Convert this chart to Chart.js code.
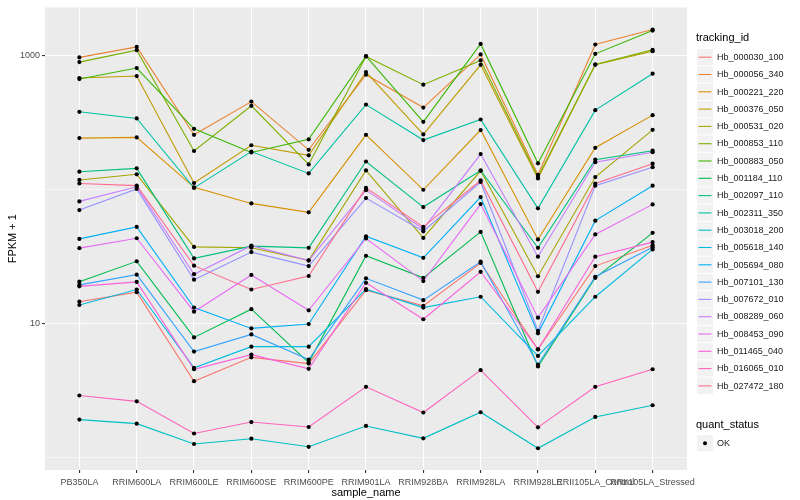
<!DOCTYPE html>
<html>
  <head>
    <script src="https://cdn.jsdelivr.net/npm/chart.js@4.4.1/dist/chart.umd.min.js"></script>
    <style>
      body {
        margin: 0;
        background: #ffffff;
      }
    </style>
  </head>
  <body>
    <canvas id="myChart" width="800" height="500"></canvas>
    <script>
      // x categories
      var sampleNames = ["PB350LA", "RRIM600LA", "RRIM600LE", "RRIM600SE", "RRIM600PE", "RRIM901LA",
        "RRIM928BA", "RRIM928LA", "RRIM928LE", "RRII105LA_Control", "RRII105LA_Stressed"];

      // FPKM + 1 per gene, one value per sample
      var hb_000030_100 = [14.6, 17.2, 3.73, 5.62, 5.05, 17.8, 13.6, 28.4, 6.45, 26.9, 38.5];
      var hb_000056_340 = [967, 1158, 256, 453, 198, 718, 409, 1017, 129, 1207, 1559];
      var hb_000221_220 = [242, 245, 104, 78.9, 67.7, 256, 99.7, 278, 42.5, 205, 359];
      var hb_000376_050 = [679, 702, 112, 214, 180, 752, 258, 852, 121, 852, 1076];
      var hb_000531_020 = [118, 130, 37.4, 36.9, 29.7, 139, 43.6, 138, 22.6, 124, 279];
      var hb_000853_110 = [892, 1095, 194, 421, 154, 983, 605, 918, 124, 858, 1100];
      var hb_000883_050 = [667, 805, 284, 189, 237, 988, 320, 1219, 157, 1028, 1532];
      var hb_001184_110 = [20.6, 29.2, 7.91, 12.85, 5.14, 32.1, 22.0, 48.4, 4.80, 22.0, 47.6];
      var hb_002097_110 = [136, 144, 30.7, 37.9, 36.8, 162, 74.1, 139, 36.8, 167, 195];
      var hb_002311_350 = [380, 339, 103, 192, 132, 430, 234, 333, 72.5, 391, 731];
      var hb_003018_200 = [1.93, 1.80, 1.27, 1.39, 1.21, 1.73, 1.40, 2.19, 1.18, 2.02, 2.47];
      var hb_005618_140 = [13.8, 18.0, 4.69, 6.75, 6.75, 18.1, 13.2, 15.9, 5.76, 15.9, 35.8];
      var hb_005694_080 = [42.9, 52.7, 13.2, 9.23, 9.95, 44.9, 31.0, 87.9, 8.48, 58.7, 107];
      var hb_007101_130 = [19.5, 23.2, 6.20, 8.33, 5.41, 21.8, 15.0, 29.0, 4.97, 22.4, 37.2];
      var hb_007672_010 = [70.4, 101, 21.3, 34.2, 26.9, 86.4, 48.9, 114, 8.87, 107, 147];
      var hb_008289_060 = [81.7, 105, 23.4, 38.2, 29.6, 99.1, 50.9, 184, 31.6, 160, 190];
      var hb_008453_090 = [36.6, 43.4, 12.3, 23.1, 12.6, 43.2, 20.8, 78.0, 11.1, 46.3, 77.6];
      var hb_011465_040 = [19.0, 20.5, 4.58, 5.89, 4.61, 20.2, 10.8, 24.4, 6.45, 31.6, 40.6];
      var hb_016065_010 = [2.92, 2.64, 1.52, 1.85, 1.70, 3.39, 2.18, 4.51, 1.69, 3.39, 4.58];
      var hb_027472_180 = [111, 107, 27.1, 18.0, 22.7, 103, 52.7, 117, 17.3, 111, 156];

      var trackingIds = ["Hb_000030_100", "Hb_000056_340", "Hb_000221_220", "Hb_000376_050",
        "Hb_000531_020", "Hb_000853_110", "Hb_000883_050", "Hb_001184_110", "Hb_002097_110",
        "Hb_002311_350", "Hb_003018_200", "Hb_005618_140", "Hb_005694_080", "Hb_007101_130",
        "Hb_007672_010", "Hb_008289_060", "Hb_008453_090", "Hb_011465_040", "Hb_016065_010",
        "Hb_027472_180"];
      var seriesValues = [hb_000030_100, hb_000056_340, hb_000221_220, hb_000376_050,
        hb_000531_020, hb_000853_110, hb_000883_050, hb_001184_110, hb_002097_110,
        hb_002311_350, hb_003018_200, hb_005618_140, hb_005694_080, hb_007101_130,
        hb_007672_010, hb_008289_060, hb_008453_090, hb_011465_040, hb_016065_010,
        hb_027472_180];

      var yTicks = [1, 10, 100, 1000];
      var yLabelled = [10, 1000];

      // ggplot hue palette, 20 colours
      var palette = ["#F8766D", "#EA8331", "#D89000", "#C09B00", "#A3A500", "#7CAE00", "#39B600",
        "#00BB4E", "#00BF7D", "#00C1A3", "#00BFC4", "#00BAE0", "#00B0F6", "#35A2FF", "#9590FF",
        "#C77CFF", "#E76BF3", "#FA62DB", "#FF62BC", "#FF6C90"];

      var FONT = '"Liberation Sans", Arial, sans-serif';

      function toPoints(values) {
        return values.map(function (v, i) { return { x: i, y: v }; });
      }

      var datasets = [];
      // lines first
      seriesValues.forEach(function (values, i) {
        datasets.push({
          label: trackingIds[i],
          data: toPoints(values),
          borderColor: palette[i],
          borderWidth: 1.1,
          pointRadius: 0,
          fill: false,
          order: seriesValues.length - i
        });
      });
      // black points on top of every line
      seriesValues.forEach(function (values, i) {
        datasets.push({
          label: trackingIds[i] + " OK",
          data: toPoints(values),
          showLine: false,
          pointRadius: 2.1,
          pointBackgroundColor: "#000000",
          pointBorderWidth: 0,
          order: -1
        });
      });

      // grey panel background
      var panelPlugin = {
        id: "panel",
        beforeDraw: function (chart) {
          var a = chart.chartArea;
          var ctx = chart.ctx;
          ctx.save();
          ctx.fillStyle = "#FFFFFF";
          ctx.fillRect(0, 0, chart.width, chart.height);
          ctx.fillStyle = "#EBEBEB";
          ctx.fillRect(a.left, a.top, a.right - a.left, a.bottom - a.top);
          ctx.restore();
        }
      };

      // ggplot style legends on the right
      var legendPlugin = {
        id: "ggLegend",
        afterDraw: function (chart) {
          var ctx = chart.ctx;
          ctx.save();
          ctx.textBaseline = "middle";
          ctx.textAlign = "left";
          ctx.fillStyle = "#000000";
          ctx.font = "11px " + FONT;
          ctx.fillText("tracking_id", 696, 38);
          ctx.font = "9px " + FONT;
          trackingIds.forEach(function (name, i) {
            var top = 49 + i * 17.3;
            ctx.fillStyle = "#F2F2F2";
            ctx.fillRect(697, top, 16, 16.3);
            ctx.strokeStyle = palette[i];
            ctx.lineWidth = 1.1;
            ctx.beginPath();
            ctx.moveTo(698.5, top + 8.2);
            ctx.lineTo(711.5, top + 8.2);
            ctx.stroke();
            ctx.fillStyle = "#1A1A1A";
            ctx.fillText(name, 717, top + 8.5);
          });
          ctx.fillStyle = "#000000";
          ctx.font = "11px " + FONT;
          ctx.fillText("quant_status", 696, 425);
          ctx.fillStyle = "#F2F2F2";
          ctx.fillRect(697, 435, 16, 16.3);
          ctx.fillStyle = "#000000";
          ctx.beginPath();
          ctx.arc(705, 443.2, 2, 0, Math.PI * 2);
          ctx.fill();
          ctx.font = "9px " + FONT;
          ctx.fillStyle = "#1A1A1A";
          ctx.fillText("OK", 717, 443.5);
          ctx.restore();
        }
      };

      var ctx = document.getElementById("myChart").getContext("2d");
      var chart = new Chart(ctx, {
        type: "line",
        data: { datasets: datasets },
        plugins: [panelPlugin, legendPlugin],
        options: {
          responsive: false,
          animation: false,
          layout: { padding: { left: 0, right: 113, top: 3, bottom: 0 } },
          plugins: {
            legend: { display: false },
            tooltip: { enabled: false }
          },
          scales: {
            x: {
              type: "linear",
              min: -0.6,
              max: sampleNames.length - 0.4,
              afterBuildTicks: function (scale) {
                scale.ticks = sampleNames.map(function (n, i) { return { value: i }; });
              },
              afterFit: function (scale) { scale.height = 30; },
              ticks: {
                autoSkip: false,
                maxRotation: 0,
                minRotation: 0,
                padding: 4,
                color: "#4D4D4D",
                font: { family: FONT, size: 9 },
                callback: function (v) { return sampleNames[v]; }
              },
              grid: {
                color: "#FFFFFF",
                lineWidth: 1.1,
                tickLength: 3,
                tickColor: "#333333"
              },
              border: { display: false },
              title: {
                display: true,
                text: "sample_name",
                color: "#000000",
                font: { family: FONT, size: 11 },
                padding: { top: 0, bottom: 0 }
              }
            },
            y: {
              type: "logarithmic",
              min: 0.8126,
              max: 2281,
              afterBuildTicks: function (scale) {
                scale.ticks = yTicks.map(function (v) { return { value: v }; });
              },
              afterFit: function (scale) { scale.width = 45; },
              ticks: {
                padding: 2,
                color: "#4D4D4D",
                font: { family: FONT, size: 9 },
                callback: function (v) { return yLabelled.indexOf(v) >= 0 ? String(v) : ""; }
              },
              grid: {
                color: "#FFFFFF",
                lineWidth: function (c) { return yLabelled.indexOf(c.tick.value) >= 0 ? 1.1 : 0.55; },
                tickLength: 3,
                tickColor: function (c) { return yLabelled.indexOf(c.tick.value) >= 0 ? "#333333" : "rgba(0,0,0,0)"; }
              },
              border: { display: false },
              title: {
                display: true,
                text: "FPKM + 1",
                color: "#000000",
                font: { family: FONT, size: 11 },
                padding: { top: 6, bottom: 0 }
              }
            }
          }
        }
      });
    </script>
  </body>
</html>
